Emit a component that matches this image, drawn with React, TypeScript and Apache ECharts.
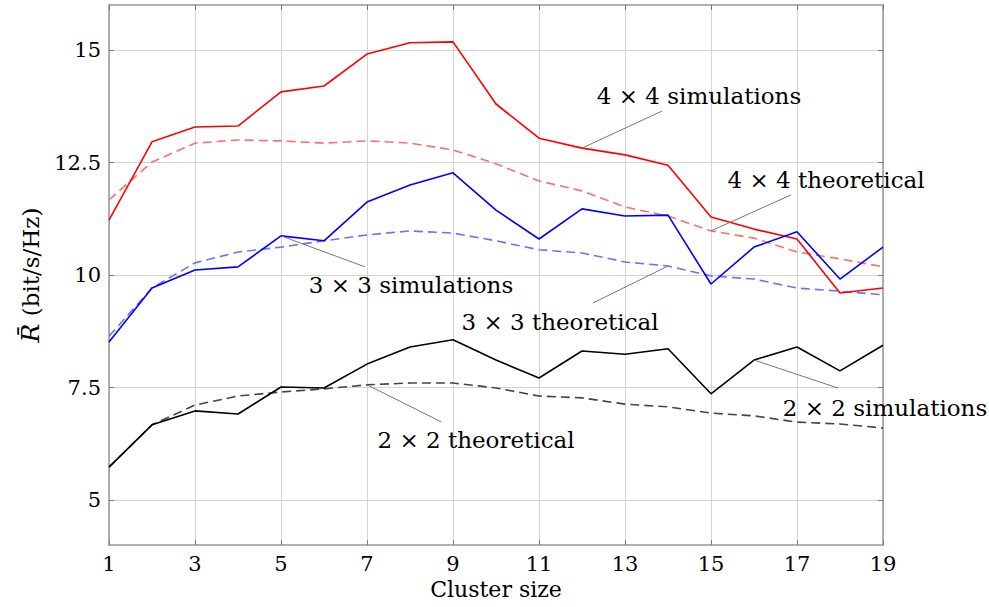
import React, { useEffect, useRef } from "react";
import * as echarts from "echarts";

const clusterSizes = [1, 2, 3, 4, 5, 6, 7, 8, 9, 10, 11, 12, 13, 14, 15, 16, 17, 18, 19];
const xTicks = [1, 3, 5, 7, 9, 11, 13, 15, 17, 19];
const yTicks = [5, 7.5, 10, 12.5, 15];

const sim4 = [11.22, 12.96, 13.29, 13.31, 14.07, 14.2, 14.91, 15.16, 15.18, 13.8, 13.04, 12.82, 12.67, 12.44, 11.29, 11.02, 10.8, 9.6, 9.71];
const theo4 = [11.67, 12.51, 12.93, 13.0, 12.98, 12.93, 12.98, 12.93, 12.78, 12.47, 12.09, 11.87, 11.51, 11.31, 10.98, 10.82, 10.51, 10.36, 10.18];
const sim3 = [8.51, 9.71, 10.11, 10.18, 10.87, 10.76, 11.62, 12.0, 12.27, 11.44, 10.8, 11.47, 11.31, 11.33, 9.8, 10.62, 10.96, 9.91, 10.62];
const theo3 = [8.64, 9.71, 10.27, 10.51, 10.62, 10.76, 10.89, 10.98, 10.93, 10.76, 10.56, 10.49, 10.29, 10.2, 9.98, 9.91, 9.71, 9.64, 9.56];
const sim2 = [5.73, 6.67, 6.98, 6.91, 7.51, 7.49, 8.02, 8.4, 8.56, 8.11, 7.71, 8.31, 8.24, 8.36, 7.36, 8.11, 8.4, 7.87, 8.44];
const theo2 = [5.73, 6.67, 7.11, 7.31, 7.4, 7.47, 7.56, 7.6, 7.6, 7.49, 7.31, 7.27, 7.13, 7.07, 6.93, 6.87, 6.73, 6.69, 6.6];

const seriesNames = ["4 × 4 simulations", "4 × 4 theoretical", "3 × 3 simulations", "3 × 3 theoretical", "2 × 2 simulations", "2 × 2 theoretical"];
const seriesValues = [sim4, theo4, sim3, theo3, sim2, theo2];
const seriesColors = ["#ff0000", "#ff6f6f", "#0000ff", "#6f6fff", "#000000", "#444444"];
const seriesDashed = [false, true, false, true, false, true];

// annotation: series index, point index, pin end offset, text centre offset
const annotations = [
  { s: 0, i: 11, pin: [80, -37], text: [117, -52] },
  { s: 1, i: 14, pin: [80, -36], text: [115, -51] },
  { s: 2, i: 4, pin: [84, 31], text: [130, 49] },
  { s: 3, i: 13, pin: [-75, 37], text: [-108, 56] },
  { s: 4, i: 15, pin: [84, 28], text: [131, 48] },
  { s: 5, i: 6, pin: [74, 37], text: [109, 55] },
];

const FONT = "DejaVu Serif";

export default function App() {
  const ref = useRef<HTMLDivElement>(null);
  useEffect(() => {
    if (!ref.current) return;
    const chart = echarts.init(ref.current, null, { renderer: "svg" });
    const frame = { lineStyle: { color: "#999999", width: 1.5 } };
    const tick = { inside: true, length: 5, lineStyle: { color: "#777777", width: 1 } };
    const labelStyle = {
      fontFamily: FONT,
      fontSize: 21,
      color: "#000",
      formatter: (v: number) => `{t|${v}}`,
      rich: { t: { fontFamily: FONT, fontSize: 21, color: "#000" } },
    };
    const option: any = {
      animation: false,
      backgroundColor: "#ffffff",
      textStyle: { fontFamily: FONT },
      grid: { left: 109, right: 106, top: 5, bottom: 62, containLabel: false },
      xAxis: [
        {
          type: "value",
          min: 1,
          max: 19,
          position: "bottom",
          name: "{n|Cluster size}",
          nameLocation: "middle",
          nameGap: 33,
          nameTextStyle: {
            fontFamily: FONT,
            fontSize: 22,
            color: "#000",
            rich: { n: { fontFamily: FONT, fontSize: 22, color: "#000" } },
          },
          axisLine: { show: true, ...frame },
          axisTick: { show: true, ...tick, customValues: xTicks },
          axisLabel: { customValues: xTicks, ...labelStyle, margin: 8 },
          splitLine: { show: true, lineStyle: { color: "#d4d4d4", width: 1 } },
        },
        {
          type: "value",
          min: 1,
          max: 19,
          position: "top",
          axisLine: { show: true, onZero: false, ...frame },
          axisTick: { show: true, ...tick, customValues: xTicks },
          axisLabel: { show: false, customValues: xTicks },
          splitLine: { show: false },
        },
      ],
      yAxis: [
        {
          type: "value",
          min: 4,
          max: 16,
          position: "left",
          name: "{i|R̄} {n|(bit/s/Hz)}",
          nameLocation: "middle",
          nameRotate: 90,
          nameGap: 64,
          nameTextStyle: {
            fontFamily: FONT,
            fontSize: 23,
            color: "#000",
            rich: {
              i: { fontFamily: FONT, fontSize: 25, fontStyle: "italic", color: "#000" },
              n: { fontFamily: FONT, fontSize: 23, color: "#000" },
            },
          },
          axisLine: { show: true, onZero: false, ...frame },
          axisTick: { show: true, ...tick, customValues: yTicks },
          axisLabel: { customValues: yTicks, ...labelStyle, margin: 8 },
          splitLine: { show: true, lineStyle: { color: "#d4d4d4", width: 1 } },
        },
        {
          type: "value",
          min: 4,
          max: 16,
          position: "right",
          axisLine: { show: true, onZero: false, ...frame },
          axisTick: { show: true, ...tick, customValues: yTicks },
          axisLabel: { show: false, customValues: yTicks },
          splitLine: { show: false },
        },
      ],
      series: seriesNames.map((name, k) => ({
        name,
        type: "line",
        xAxisIndex: 0,
        yAxisIndex: 0,
        data: clusterSizes.map((x, j) => [x, seriesValues[k][j]]),
        showSymbol: false,
        symbol: "none",
        lineStyle: { color: seriesColors[k], width: 1.6, type: seriesDashed[k] ? [9, 5] : "solid" },
        z: seriesDashed[k] ? 2 : 3,
      })),
    };
    chart.setOption(option);
    const elements: any[] = [];
    annotations.forEach((a) => {
      const p = chart.convertToPixel({ gridIndex: 0 }, [clusterSizes[a.i], seriesValues[a.s][a.i]]) as number[];
      elements.push({
        type: "line",
        shape: { x1: p[0], y1: p[1], x2: p[0] + a.pin[0], y2: p[1] + a.pin[1] },
        style: { stroke: "#777777", lineWidth: 1 },
        z: 10,
      });
      elements.push({
        type: "text",
        x: p[0] + a.text[0],
        y: p[1] + a.text[1],
        style: {
          text: seriesNames[a.s],
          fontFamily: FONT,
          fontSize: 23,
          fill: "#000",
          align: "center",
          verticalAlign: "middle",
        },
        z: 10,
      });
    });
    chart.setOption({ graphic: elements });
    return () => chart.dispose();
  }, []);
  return <div ref={ref} style={{ position: "fixed", left: 0, top: 0, width: 989, height: 607 }} />;
}
